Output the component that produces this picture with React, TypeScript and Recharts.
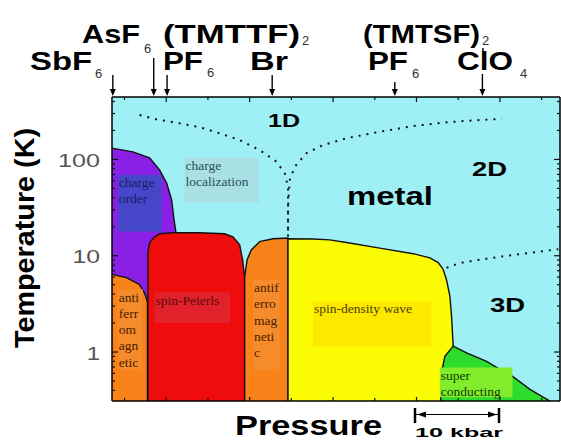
import React from 'react';
import { ComposedChart, Area, Line, XAxis, YAxis, CartesianGrid, ReferenceArea } from 'recharts';

// pressure in kbar relative to (TMTTF)2PF6, temperature in K (log scale)
const P_MIN = -6.5;
const P_MAX = 47.2;
const T_MIN = 0.31;
const T_MAX = 445;

const P_TICKS = [-5, 0, 5, 10, 15, 20, 25, 30, 35, 40, 45];
const P_MAJOR = [0, 10, 20, 30, 40];
const T_TICKS = [0.4, 0.5, 0.6, 0.7, 0.8, 0.9, 1, 2, 3, 4, 5, 6, 7, 8, 9, 10, 20, 30, 40, 50, 60, 70, 80, 90, 100, 200, 300, 400];
const T_LABELS = [1, 10, 100];

// ambient-pressure positions of the salts (arrows on top)
const SALT_P = [-6.4, -1.5, 0.1, 12.7, 27.4, 37.9];
const SALT_ARROW = [21, 38, 21, 21, 14, 22];

// phase boundaries
const chargeOrder = [
  { p: -6.5, t: 131 }, { p: -4, t: 120 }, { p: -2, t: 104 }, { p: -0.8, t: 78 },
  { p: 0.05, t: 57 }, { p: 0.65, t: 38 }, { p: 0.9, t: 25 }, { p: 1.15, t: 17.7 }, { p: 1.15, t: T_MIN },
];
const afLeft = [
  { p: -6.5, t: 6.4 }, { p: -4.7, t: 5.9 }, { p: -3.2, t: 5.0 }, { p: -2.6, t: 4.1 },
  { p: -2.25, t: 3.3 }, { p: -2.25, t: T_MIN },
];
const spinPeierls = [
  { p: -2.2, t: T_MIN }, { p: -2.2, t: 10.7 }, { p: -2.0, t: 13.6 }, { p: -1.4, t: 15.7 },
  { p: -0.8, t: 16.9 }, { p: 0.8, t: 17.3 }, { p: 4, t: 17.3 }, { p: 7, t: 16.9 },
  { p: 8, t: 15.7 }, { p: 8.8, t: 13 }, { p: 9.15, t: 9.1 }, { p: 9.4, t: 6.0 }, { p: 9.4, t: T_MIN },
];
const afMiddle = [
  { p: 9.4, t: T_MIN }, { p: 9.4, t: 6.0 }, { p: 9.7, t: 9.1 }, { p: 10.2, t: 11.5 },
  { p: 11.2, t: 14 }, { p: 12.8, t: 15 }, { p: 14.6, t: 15.3 }, { p: 14.6, t: T_MIN },
];
const sdw = [
  { p: 14.6, t: T_MIN }, { p: 14.6, t: 15.0 }, { p: 17.6, t: 14.9 }, { p: 19.6, t: 14.6 },
  { p: 21.6, t: 13.7 }, { p: 25.6, t: 12.0 }, { p: 29.6, t: 10.5 }, { p: 31.6, t: 9.5 },
  { p: 32.6, t: 8.5 }, { p: 33.2, t: 7.2 }, { p: 33.6, t: 5.6 }, { p: 34.0, t: 3.8 },
  { p: 34.2, t: 2.35 }, { p: 34.4, t: 1.15 }, { p: 34.4, t: T_MIN },
];
const superconducting = [
  { p: 32.9, t: T_MIN }, { p: 33.0, t: 0.61 }, { p: 33.4, t: 0.9 }, { p: 34.4, t: 1.15 },
  { p: 36.0, t: 0.98 }, { p: 38.4, t: 0.8 }, { p: 40.0, t: 0.66 }, { p: 41.2, t: 0.585 },
  { p: 43.6, t: 0.41 }, { p: 46.0, t: T_MIN },
];

// dimensional crossovers (dotted)
const crossLeft = [
  { p: -3.2, t: 289 }, { p: -1.2, t: 261 }, { p: 1.6, t: 237 }, { p: 4.0, t: 216 },
  { p: 6.4, t: 187 }, { p: 8.8, t: 159 }, { p: 11.2, t: 125 }, { p: 13.2, t: 95 },
  { p: 14.2, t: 72 }, { p: 14.6, t: 52 }, { p: 14.6, t: 32 }, { p: 14.6, t: 15.8 },
];
const crossRight = [
  { p: 14.6, t: 15.8 }, { p: 14.6, t: 32 }, { p: 14.8, t: 61 }, { p: 15.4, t: 84 },
  { p: 16.8, t: 116 }, { p: 18.8, t: 141 }, { p: 21.6, t: 166 }, { p: 25.6, t: 194 },
  { p: 29.6, t: 222 }, { p: 33.6, t: 243 }, { p: 37.6, t: 257 }, { p: 40.2, t: 263 },
];
const cross3D = [
  { p: 33.6, t: 7.5 }, { p: 35.2, t: 8.4 }, { p: 37.6, t: 9.1 }, { p: 41.6, t: 10.2 }, { p: 47.0, t: 11.7 },
];

const CYAN = '#9ef0f4';
const FONT = '"Liberation Sans", Arial, sans-serif';
const SERIF = '"Liberation Serif", "Times New Roman", serif';

const LABEL_BOXES = [
  { x1: -5.8, x2: -0.55, y1: 17.7, y2: 69, fill: '#4646c8', color: '#1c1c66', lines: ['charge', 'order'] },
  { x1: 2.2, x2: 11.1, y1: 35.9, y2: 104, fill: '#a8e0e3', color: '#2a4f5e', lines: ['charge', 'localization'] },
  { x1: -1.4, x2: 7.7, y1: 2.0, y2: 4.15, fill: '#e2222a', color: '#5c0a0a', lines: ['spin-Peierls'] },
  { x1: -5.8, x2: -2.8, y1: 0.66, y2: 4.45, fill: '#f58b2a', color: '#4a1d00', lines: ['anti', 'ferr', 'om', 'agn', 'etic'] },
  { x1: 10.4, x2: 13.6, y1: 0.66, y2: 5.6, fill: '#f58b2a', color: '#4a1d00', lines: ['antif', 'erro', 'mag', 'neti', 'c'] },
  { x1: 17.6, x2: 31.8, y1: 1.14, y2: 3.35, fill: '#fde800', color: '#4a3f00', lines: ['spin-density wave'] },
  { x1: 32.8, x2: 41.5, y1: 0.34, y2: 0.69, fill: '#80ec2c', color: '#143c00', lines: ['super', 'conducting'] },
];

const boxText = (lines: string[], color: string) => (props: any) => {
  const vb = props.viewBox || {};
  const x = vb.x + 1;
  return (
    <text x={x} y={vb.y + 12} fontFamily={SERIF} fontSize={13.5} fill={color}>
      {lines.map((l, i) => (
        <tspan key={i} x={x} dy={i === 0 ? 0 : 16.3}>{l}</tspan>
      ))}
    </text>
  );
};

const LeftTick = (props: any) => {
  const { x, y, payload } = props;
  const v = payload.value;
  const major = T_LABELS.includes(v);
  return (
    <g>
      <line x1={x} x2={x + (major ? 6 : 3)} y1={y} y2={y} stroke="#111" strokeWidth={1.2} />
      {major && (
        <text x={x - 12} y={y + 7.5} textAnchor="end" fontFamily={FONT} fontSize={19} fill="#555"
          textLength={String(v).length * 14.3 - 1} lengthAdjust="spacingAndGlyphs">{v}</text>
      )}
    </g>
  );
};

const RightTick = (props: any) => {
  const { x, y, payload } = props;
  const major = T_LABELS.includes(payload.value);
  return <line x1={x} x2={x - (major ? 6 : 3)} y1={y} y2={y} stroke="#111" strokeWidth={1.2} />;
};

const TopTick = (props: any) => {
  const { x, y, payload } = props;
  const v = payload.value;
  const i = SALT_P.indexOf(v);
  if (i >= 0) {
    const len = SALT_ARROW[i];
    return (
      <g>
        <line x1={x} x2={x} y1={y - 1 - len} y2={y - 5} stroke="#000" strokeWidth={1.4} />
        <polygon points={`${x - 3},${y - 8} ${x + 3},${y - 8} ${x},${y - 1}`} fill="#000" />
      </g>
    );
  }
  return <line x1={x} x2={x} y1={y} y2={y + (P_MAJOR.includes(v) ? 5 : 3)} stroke="#111" strokeWidth={1.2} />;
};

const BottomTick = (props: any) => {
  const { x, y, payload } = props;
  return <line x1={x} x2={x} y1={y} y2={y - (P_MAJOR.includes(payload.value) ? 4 : 3)} stroke="#111" strokeWidth={1.2} />;
};

const regionStyle = { stroke: '#111', strokeWidth: 1.4, fillOpacity: 1, isAnimationActive: false, dot: false, activeDot: false, type: 'linear' as const, baseValue: 'dataMin' as const };
const dotStyle = { stroke: '#111', strokeWidth: 2, strokeDasharray: '2 6', isAnimationActive: false, dot: false, activeDot: false, type: 'linear' as const };

const Sub = ({ x, y, children }: any) => (
  <text x={x} y={y} fontFamily={FONT} fontSize={13} fill="#333">{children}</text>
);
const Big = ({ x, y, w, size = 25, children }: any) => (
  <text x={x} y={y} fontFamily={FONT} fontWeight="bold" fontSize={size} fill="#000"
    textLength={w} lengthAdjust="spacingAndGlyphs">{children}</text>
);

export default function App() {
  return (
    <div style={{ position: 'absolute', left: 0, top: 0, width: 561, height: 442, background: '#fff' }}>
      <ComposedChart width={561} height={442} margin={{ top: 67, right: 0, bottom: 0, left: 0 }}>
        <CartesianGrid fill={CYAN} horizontal={false} vertical={false} />
        <XAxis dataKey="p" type="number" domain={[P_MIN, P_MAX]} allowDataOverflow ticks={P_TICKS} interval={0}
          height={41} tickSize={0} tickMargin={0} tick={BottomTick} axisLine={{ stroke: '#000', strokeWidth: 1.5 }} />
        <XAxis xAxisId="top" orientation="top" dataKey="p" type="number" domain={[P_MIN, P_MAX]} allowDataOverflow
          ticks={[...P_TICKS, ...SALT_P]} interval={0} height={30} tickSize={0} tickMargin={0} tick={TopTick}
          axisLine={{ stroke: '#000', strokeWidth: 1.5 }} />
        <YAxis dataKey="t" type="number" scale="log" domain={[T_MIN, T_MAX]} allowDataOverflow ticks={T_TICKS}
          interval={0} width={112} tickSize={0} tickMargin={0} tick={LeftTick} axisLine={{ stroke: '#000', strokeWidth: 1.5 }} />
        <YAxis yAxisId="r" orientation="right" dataKey="t" type="number" scale="log" domain={[T_MIN, T_MAX]}
          allowDataOverflow ticks={T_TICKS} interval={0} width={1} tickSize={0} tickMargin={0} tick={RightTick}
          axisLine={{ stroke: '#000', strokeWidth: 1.5 }} />

        <Area data={chargeOrder} dataKey="t" fill="#8a1fe6" {...regionStyle} />
        <Area data={afLeft} dataKey="t" fill="#f8831a" {...regionStyle} />
        <Area data={spinPeierls} dataKey="t" fill="#f00c0c" {...regionStyle} />
        <Area data={afMiddle} dataKey="t" fill="#f8831a" {...regionStyle} />
        <Area data={sdw} dataKey="t" fill="#fcfc04" {...regionStyle} />
        <Area data={superconducting} dataKey="t" fill="#2edc2e" {...regionStyle} />

        <Line data={crossLeft} dataKey="t" {...dotStyle} />
        <Line data={crossRight} dataKey="t" {...dotStyle} />
        <Line data={cross3D} dataKey="t" {...dotStyle} />

        {LABEL_BOXES.map((b, i) => (
          <ReferenceArea key={i} x1={b.x1} x2={b.x2} y1={b.y1} y2={b.y2} fill={b.fill} fillOpacity={1}
            stroke="none" ifOverflow="visible" zIndex={700} label={{ content: boxText(b.lines, b.color) }} />
        ))}
      </ComposedChart>

      <svg width={561} height={442} style={{ position: 'absolute', left: 0, top: 0, pointerEvents: 'none' }}>
        <Big x={30} y={70} w={62}>SbF</Big>
        <Sub x={95} y={78}>6</Sub>
        <Big x={82} y={43} w={58}>AsF</Big>
        <Sub x={144} y={53}>6</Sub>
        <Big x={163} y={43} w={137}>(TMTTF)</Big>
        <Sub x={302} y={45}>2</Sub>
        <Big x={163} y={70} w={40}>PF</Big>
        <Sub x={207} y={77}>6</Sub>
        <Big x={250} y={70} w={38}>Br</Big>
        <Big x={363} y={43} w={117}>(TMTSF)</Big>
        <Sub x={482} y={45}>2</Sub>
        <Big x={368} y={70} w={40}>PF</Big>
        <Sub x={412} y={78}>6</Sub>
        <Big x={457} y={70} w={56}>ClO</Big>
        <line x1={483} x2={483} y1={48} y2={53} stroke="#000" strokeWidth={1.4} />
        <Sub x={520} y={78}>4</Sub>

        <Big x={268} y={127} w={32} size={18}>1D</Big>
        <Big x={472} y={176} w={35} size={20}>2D</Big>
        <Big x={347} y={205} w={86} size={25}>metal</Big>
        <Big x={490} y={312} w={35} size={20}>3D</Big>

        <text transform="translate(34,238) rotate(-90)" textAnchor="middle" fontFamily={FONT} fontWeight="bold"
          fontSize={28} textLength={220} lengthAdjust="spacingAndGlyphs">Temperature (K)</text>
        <Big x={235} y={435} w={147} size={28}>Pressure</Big>

        <line x1={415} x2={415} y1={408} y2={423} stroke="#000" strokeWidth={2.5} />
        <line x1={499} x2={499} y1={408} y2={423} stroke="#000" strokeWidth={2.5} />
        <line x1={416} x2={498} y1={414.5} y2={414.5} stroke="#000" strokeWidth={1} />
        <polygon points="417,414.5 426,411.5 426,417.5" fill="#000" />
        <polygon points="497,414.5 488,411.5 488,417.5" fill="#000" />
        <Big x={415} y={437} w={88} size={13}>10 kbar</Big>
      </svg>
    </div>
  );
}
